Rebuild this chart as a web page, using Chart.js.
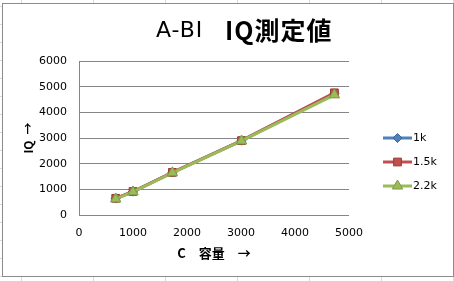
<!DOCTYPE html>
<html>
<head>
<meta charset="utf-8">
<script src="https://cdn.jsdelivr.net/npm/chart.js@4"></script>
<style>
html,body{margin:0;padding:0;}
body{width:454px;height:281px;overflow:hidden;position:relative;background-color:#fff;
background-image:linear-gradient(to right,#d9d9d9 1px,transparent 1px),linear-gradient(to bottom,#d9d9d9 1px,transparent 1px);
background-size:72px 18px;background-position:21px 6px;}
#frame{position:absolute;left:2px;top:3px;width:450px;height:272px;border:1px solid #8c8c8c;background:#fff;}
#c{position:absolute;left:0;top:0;}
</style>
</head>
<body>
<div id="frame"></div>
<canvas id="c" width="454" height="281"></canvas>
<script>
const titleLight = "A-BI";
const titleBold = "IQ測定値";
const xTitle = "C　容量　→";
const yTitle = "IQ\u2002→";
const seriesNames = ["1k", "1.5k", "2.2k"];
const capacity = [680, 1000, 1730, 3010, 4730];
const iq1k = [640, 910, 1655, 2895, 4740];
const iq15k = [650, 915, 1660, 2900, 4760];
const iq22k = [625, 900, 1645, 2885, 4680];
const xTicks = [0, 1000, 2000, 3000, 4000, 5000];
const yTicks = [0, 1000, 2000, 3000, 4000, 5000, 6000];

const colors = ["#4F81BD", "#C0504D", "#9BBB59"];
const borders = ["#3A6496", "#9A3B38", "#7E9A46"];
const styles = ["rectRot", "rect", "triangle"];
const radii = [4.5, 5.5, 6];
const seriesValues = [iq1k, iq15k, iq22k];

const datasets = seriesNames.map((n, i) => ({
  label: n,
  data: capacity.map((c, j) => ({x: c, y: seriesValues[i][j]})),
  order: seriesNames.length - i,
  borderColor: colors[i],
  backgroundColor: colors[i],
  pointBorderColor: borders[i],
  pointBackgroundColor: colors[i],
  pointStyle: styles[i],
  pointRadius: radii[i],
  pointBorderWidth: 1,
  borderWidth: 3,
  tension: 0,
  showLine: true
}));

const tickFont = {family: "'DejaVu Sans'", size: 11};

const titlePlugin = {
  id: 'mixedTitle',
  afterDraw(chart) {
    const ctx = chart.ctx;
    ctx.save();
    ctx.fillStyle = '#000';
    ctx.textBaseline = 'middle';
    ctx.textAlign = 'left';
    ctx.letterSpacing = '1px';
    ctx.font = "22px 'DejaVu Sans'";
    ctx.fillText(titleLight, 156, 31);
    ctx.font = "bold 25px 'Noto Sans CJK JP'";
    ctx.fillText(titleBold, 225, 30);
    ctx.restore();
  }
};

const legendPlugin = {
  id: 'lineLegend',
  afterDraw(chart) {
    const ctx = chart.ctx;
    const x0 = chart.chartArea.right + 34;
    const y0 = 138;
    ctx.save();
    chart.data.datasets.forEach((ds, i) => {
      const y = y0 + i * 24;
      ctx.strokeStyle = ds.borderColor;
      ctx.lineWidth = 3;
      ctx.beginPath(); ctx.moveTo(x0, y); ctx.lineTo(x0 + 29, y); ctx.stroke();
      ctx.fillStyle = ds.pointBackgroundColor;
      ctx.strokeStyle = ds.pointBorderColor;
      ctx.lineWidth = 1;
      Chart.helpers.drawPoint(ctx, {pointStyle: ds.pointStyle, radius: ds.pointRadius, borderWidth: 1, rotation: 0}, x0 + 14.5, y);
      ctx.fillStyle = '#000';
      ctx.font = "11px 'DejaVu Sans'";
      ctx.textBaseline = 'middle';
      ctx.textAlign = 'left';
      ctx.fillText(ds.label, x0 + 30, y);
    });
    ctx.restore();
  }
};

new Chart(document.getElementById('c'), {
  type: 'scatter',
  data: {datasets},
  options: {
    responsive: false,
    animation: false,
    devicePixelRatio: 1,
    layout: {padding: {left: 0, top: 61, right: 105, bottom: 20}},
    plugins: {legend: {display: false}, title: {display: false}, tooltip: {enabled: false}},
    scales: {
      x: {
        type: 'linear', min: 0, max: 5000,
        afterBuildTicks: s => { s.ticks = xTicks.map(v => ({value: v})); },
        afterFit: s => { s.height = 46; },
        grid: {display: false, drawTicks: false},
        border: {display: false},
        ticks: {font: tickFont, color: '#000', padding: 12, maxRotation: 0, callback: v => String(v)},
        title: {display: true, text: xTitle, color: '#000', font: {family: "'Noto Sans CJK JP'", size: 13, weight: 'bold'}, padding: {top: 0, bottom: 0}}
      },
      y: {
        type: 'linear', min: 0, max: 6000,
        afterBuildTicks: s => { s.ticks = yTicks.map(v => ({value: v})); },
        afterFit: s => { s.width = 79; },
        grid: {color: '#868686', lineWidth: 1, drawTicks: false},
        border: {display: true, color: '#868686'},
        ticks: {font: tickFont, color: '#000', padding: 12, callback: v => String(v)},
        title: {display: true, text: yTitle, color: '#000', font: {family: "'Noto Sans CJK JP'", size: 12, weight: 'bold'}, padding: {top: 21, bottom: 0}}
      }
    }
  },
  plugins: [titlePlugin, legendPlugin]
});
</script>
</body>
</html>
